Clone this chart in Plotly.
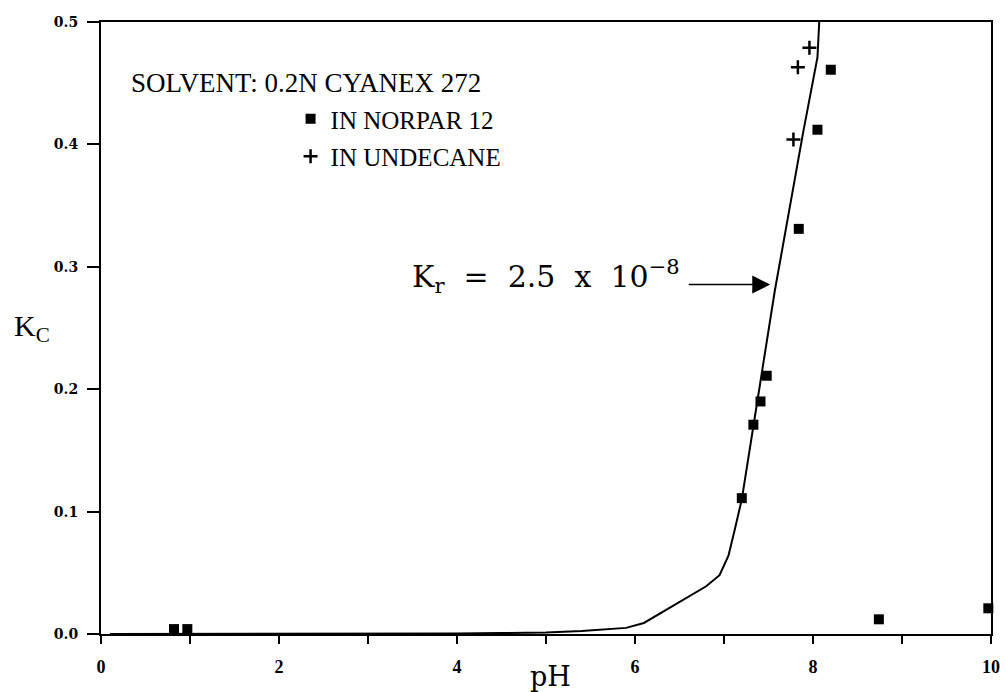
import plotly.graph_objects as go

# Data
norpar_ph = [0.82, 0.97, 7.20, 7.33, 7.41, 7.48, 7.84, 8.05, 8.20, 8.74, 9.97]
norpar_kc = [0.004, 0.004, 0.111, 0.171, 0.190, 0.211, 0.331, 0.412, 0.461, 0.012, 0.021]

undecane_ph = [7.78, 7.83, 7.96]
undecane_kc = [0.404, 0.463, 0.479]

model_ph = [0.1, 1.0, 2.0, 3.0, 4.0, 4.5, 5.0, 5.4, 5.9, 6.1, 6.5, 6.8, 6.95, 7.05, 7.12, 7.20, 7.57, 7.89, 8.05, 8.07]
model_kc = [0.0, 0.0, 0.0, 0.0, 0.0005, 0.0008, 0.0012, 0.0025, 0.005, 0.009, 0.026, 0.039, 0.048, 0.064, 0.085, 0.110, 0.280, 0.410, 0.471, 0.500]

x_ticks = [0, 1, 2, 3, 4, 5, 6, 7, 8, 9, 10]
x_ticktext = ["0", "", "2", "", "4", "", "6", "", "8", "", "10"]
y_ticks = [0.0, 0.1, 0.2, 0.3, 0.4, 0.5]

SERIF = "Liberation Serif"
WIDE = "DejaVu Serif"
NB = "\u00a0"

fig = go.Figure()
fig.add_trace(go.Scatter(x=model_ph, y=model_kc, mode="lines",
                         line=dict(color="black", width=2), showlegend=False))
fig.add_trace(go.Scatter(x=norpar_ph, y=norpar_kc, mode="markers", name="IN NORPAR 12",
                         legendgroup="a",
                         marker=dict(symbol="square", size=10, color="black"),
                         cliponaxis=False))
fig.add_trace(go.Scatter(x=undecane_ph, y=undecane_kc, mode="markers", name="IN UNDECANE",
                         legendgroup="b",
                         marker=dict(symbol="cross-thin", size=10, color="black",
                                     line=dict(color="black", width=2.5)),
                         cliponaxis=False))

fig.update_layout(
    width=1006, height=692,
    margin=dict(l=101, r=15, t=22, b=58),
    plot_bgcolor="white", paper_bgcolor="white",
    font=dict(family=SERIF, color="black"),
    legend=dict(x=0.213, y=0.879, xanchor="left", yanchor="top",
                bgcolor="rgba(0,0,0,0)", font=dict(family=SERIF, size=25, color="black"),
                itemwidth=30, traceorder="grouped", tracegroupgap=2),
    xaxis=dict(range=[0, 10], tickvals=x_ticks, ticktext=x_ticktext, automargin=False,
               ticks="outside", ticklen=8, tickwidth=1.5, tickcolor="black",
               showline=True, linecolor="black", linewidth=2, mirror=True,
               showgrid=False, zeroline=False, ticklabelstandoff=7,
               tickfont=dict(family=SERIF, size=18, color="black", weight="bold")),
    yaxis=dict(range=[0, 0.5], tickvals=y_ticks, tickformat=".1f", automargin=False,
               ticks="outside", ticklen=12, tickwidth=1.5, tickcolor="black",
               showline=True, linecolor="black", linewidth=2, mirror=True,
               showgrid=False, zeroline=False, ticklabelstandoff=6,
               tickfont=dict(family=WIDE, size=14, color="black", weight="bold")),
    annotations=[
        dict(text="SOLVENT: 0.2N CYANEX 272", xref="paper", yref="paper",
             x=0.031, y=0.901, xanchor="left", yanchor="middle", showarrow=False,
             font=dict(family=SERIF, size=27, color="black")),
        dict(text="pH", xref="paper", yref="paper", x=0.5045, y=-0.069,
             xanchor="center", yanchor="middle", showarrow=False,
             font=dict(family=WIDE, size=27, color="black")),
        dict(text="K<sub>C</sub>", xref="paper", yref="paper", x=-0.1, y=0.50,
             xanchor="left", yanchor="middle", showarrow=False,
             font=dict(family=SERIF, size=30, color="black")),
        dict(text="K<sub>r</sub>" + NB + " =" + NB + " 2.5" + NB + " x" + NB + " 10<sup>\u22128</sup>",
             xref="x", yref="y",
             x=6.53, y=0.292, xanchor="right", yanchor="middle", showarrow=False,
             font=dict(family=WIDE, size=30, color="black")),
        dict(text="", x=7.52, y=0.2855, xref="x", yref="y", showarrow=True,
             ax=-83, ay=0, arrowhead=2, arrowsize=2.4, arrowwidth=1.5,
             arrowcolor="black", standoff=0),
    ],
)

fig.write_html("out.html", config=dict(displayModeBar=False),
               post_script="document.body.style.margin='0';document.body.style.overflow='hidden';")
